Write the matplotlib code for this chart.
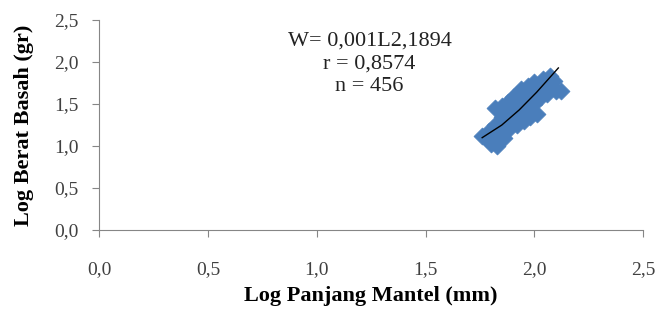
import matplotlib.pyplot as plt
import numpy as np

# log panjang mantel (x) vs log berat basah (y)
log_panjang = [1.76, 1.78, 1.79, 1.80, 1.81, 1.82, 1.82, 1.83, 1.84, 1.85,
               1.85, 1.86, 1.87, 1.88, 1.88, 1.89, 1.90, 1.90, 1.91, 1.92,
               1.92, 1.93, 1.94, 1.94, 1.95, 1.96, 1.97, 1.97, 1.98, 1.99,
               2.00, 2.00, 2.01, 2.02, 2.03, 2.04, 2.05, 2.06, 2.07, 2.08,
               2.10, 2.12, 2.09]
log_berat = [1.12, 1.08, 1.18, 1.02, 1.14, 1.25, 1.45, 1.00, 1.20, 1.35,
             1.48, 1.10, 1.28, 1.40, 1.52, 1.22, 1.33, 1.58, 1.45, 1.25,
             1.62, 1.38, 1.50, 1.68, 1.30, 1.57, 1.42, 1.72, 1.35, 1.63,
             1.50, 1.76, 1.38, 1.68, 1.58, 1.80, 1.72, 1.62, 1.84, 1.70,
             1.65, 1.66, 1.78]

# trendline points
trend_x = [1.76, 1.85, 1.93, 2.01, 2.11]
trend_y = [1.10, 1.25, 1.43, 1.64, 1.93]

ticks = [0.0, 0.5, 1.0, 1.5, 2.0, 2.5]
tick_labels = ["0,0", "0,5", "1,0", "1,5", "2,0", "2,5"]

annot = "W= 0,001L2,1894\nr = 0,8574\nn = 456"

plt.rcParams["font.family"] = ["Liberation Serif", "DejaVu Serif"]

fig = plt.figure(figsize=(6.57, 3.24), dpi=100)
ax = fig.add_axes([0.151, 0.29, 0.828, 0.648])

ax.scatter(log_panjang, log_berat, marker="D", s=75, color="#4a7ebb",
           edgecolors="#4a7ebb", linewidths=0.5, zorder=2)
ax.plot(trend_x, trend_y, color="black", lw=1.0, zorder=3)

ax.set_xlim(0, 2.5)
ax.set_ylim(0, 2.5)
ax.set_xticks(ticks)
ax.set_xticklabels(tick_labels)
ax.set_yticks(ticks)
ax.set_yticklabels(tick_labels)

for side in ["top", "right"]:
    ax.spines[side].set_visible(False)
for side in ["left", "bottom"]:
    ax.spines[side].set_color("#868686")
ax.tick_params(axis="both", colors="#868686", labelcolor="#404040",
               labelsize=14, length=5, direction="out")
ax.tick_params(axis="x", pad=17)
ax.tick_params(axis="y", pad=10)

ax.set_xlabel("Log Panjang Mantel (mm)", fontsize=16, fontweight="bold",
              labelpad=6)
ax.set_ylabel("Log Berat Basah (gr)", fontsize=16, fontweight="bold",
              labelpad=14)

ax.text(1.243, 2.36, annot, ha="center", va="top", fontsize=16,
        linespacing=1.25, color="#222222")

fig.savefig("out.png", dpi=100)
